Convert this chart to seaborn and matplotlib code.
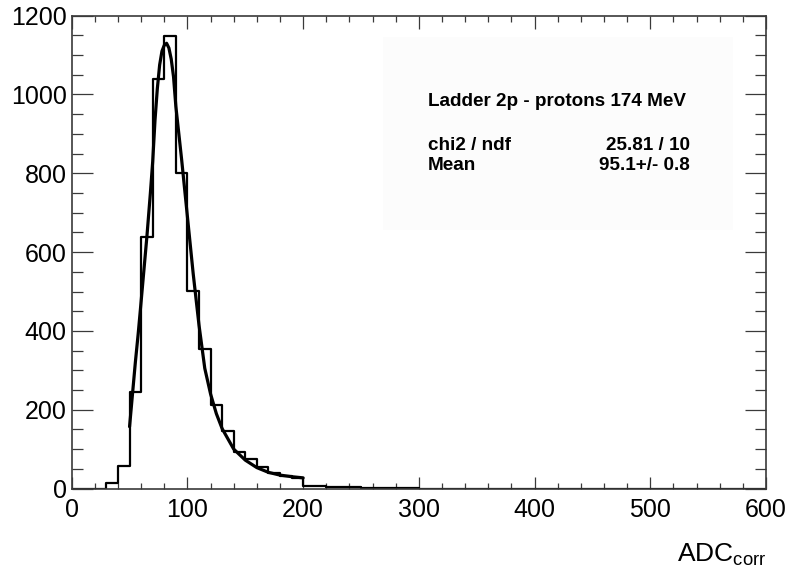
import numpy as np
import pandas as pd
import seaborn as sns
import matplotlib
matplotlib.use("Agg")
import matplotlib.pyplot as plt
from matplotlib.patches import Rectangle
from matplotlib.ticker import MultipleLocator

# ---- data ----
bin_width = 10
bin_lefts = list(range(0, 600, 10))
counts = [0, 0, 0, 13, 57, 244, 638, 1040, 1149, 800,
          502, 355, 213, 145, 92, 76, 54, 40, 32, 26,
          7, 6, 4, 3, 3, 2, 2, 1, 1, 1] + [0] * 30

fit_x = [50, 55, 57.5, 60, 65, 68, 70, 72, 74, 76, 78, 80, 82, 84, 86, 88, 90, 95,
         100, 105, 110, 115, 120, 125, 130, 140, 150, 160, 170, 180, 190, 200]
fit_y = [157, 320, 394, 475, 640, 750, 830, 935, 1015, 1075, 1110, 1125, 1130, 1118, 1090,
         1045, 970, 835, 690, 545, 415, 305, 240, 190, 152, 100, 72, 53, 41, 34, 30, 27]

xticks = [0, 100, 200, 300, 400, 500, 600]
yticks = [0, 200, 400, 600, 800, 1000, 1200]

stats_title = "Ladder 2p - protons 174 MeV"
stats_names = ["chi2 / ndf", "Mean"]
stats_values = ["25.81 / 10", "95.1+/- 0.8"]

# ---- styling ----
sns.set_style("ticks")
plt.rcParams["font.family"] = ["Liberation Sans", "DejaVu Sans"]
plt.rcParams["text.color"] = "black"
plt.rcParams["mathtext.fontset"] = "custom"
plt.rcParams["mathtext.rm"] = "Liberation Sans"
plt.rcParams["mathtext.it"] = "Liberation Sans:italic"

W, H = 791, 577
fig = plt.figure(figsize=(W / 100, H / 100), dpi=100)
left, right, top, bottom = 71.7, 766, 15.7, 488.5
ax = fig.add_axes([left / W, 1 - bottom / H, (right - left) / W, (bottom - top) / H])

hist_df = pd.DataFrame({"center": np.array(bin_lefts) + bin_width / 2, "count": counts})
edges = list(bin_lefts) + [bin_lefts[-1] + bin_width]
sns.histplot(data=hist_df, x="center", weights="count", bins=edges, element="step",
             fill=False, color="black", linewidth=1.6, ax=ax)

fit_df = pd.DataFrame({"x": fit_x, "y": fit_y})
sns.lineplot(data=fit_df, x="x", y="y", color="black", linewidth=2.3, ax=ax)

# stats box (very faint)
bx0, by0, bx1, by1 = 383, 37, 733, 230
ax.add_patch(Rectangle(((bx0 - left) / (right - left), 1 - (by1 - top) / (bottom - top)),
                       (bx1 - bx0) / (right - left), (by1 - by0) / (bottom - top),
                       transform=ax.transAxes, facecolor="#fcfcfc", edgecolor="none", zorder=0))

def fx(px):
    return px / W

def fy(py):
    return 1 - py / H

fig.text(fx(428), fy(101.7), stats_title, fontsize=13.6, fontweight="bold",
         va="center", ha="left", color="black")
for i, (n, v) in enumerate(zip(stats_names, stats_values)):
    yy = [145, 166][i]
    fig.text(fx(428), fy(yy), n, fontsize=13.6, fontweight="bold", va="center", ha="left", color="black")
    fig.text(fx(690), fy(yy), v, fontsize=13.6, fontweight="bold", va="center", ha="right", color="black")

ax.set_xlim(0, 600)
ax.set_ylim(0, 1200)
ax.set_xticks(xticks)
ax.set_yticks(yticks)
ax.xaxis.set_minor_locator(MultipleLocator(20))
ax.yaxis.set_minor_locator(MultipleLocator(50))
ax.set_xlabel("")
ax.set_ylabel("")

frame_c = "#3a3a3a"
for s in ax.spines.values():
    s.set_visible(True)
    s.set_color(frame_c)
    s.set_linewidth(1.2)
ax.tick_params(which="both", direction="in", top=True, right=True, color=frame_c,
               width=0.9, labelsize=18, labelcolor="black")
ax.tick_params(axis="y", which="major", length=15, pad=3.6)
ax.tick_params(axis="y", which="minor", length=7.8)
ax.tick_params(axis="x", which="major", length=9, pad=7)
ax.tick_params(axis="x", which="minor", length=4.5)

fig.text(fx(766), fy(561.7), r"ADC$_{\mathrm{corr}}$", fontsize=19, ha="right", va="baseline", color="black")

fig.savefig("out.png", dpi=100)
